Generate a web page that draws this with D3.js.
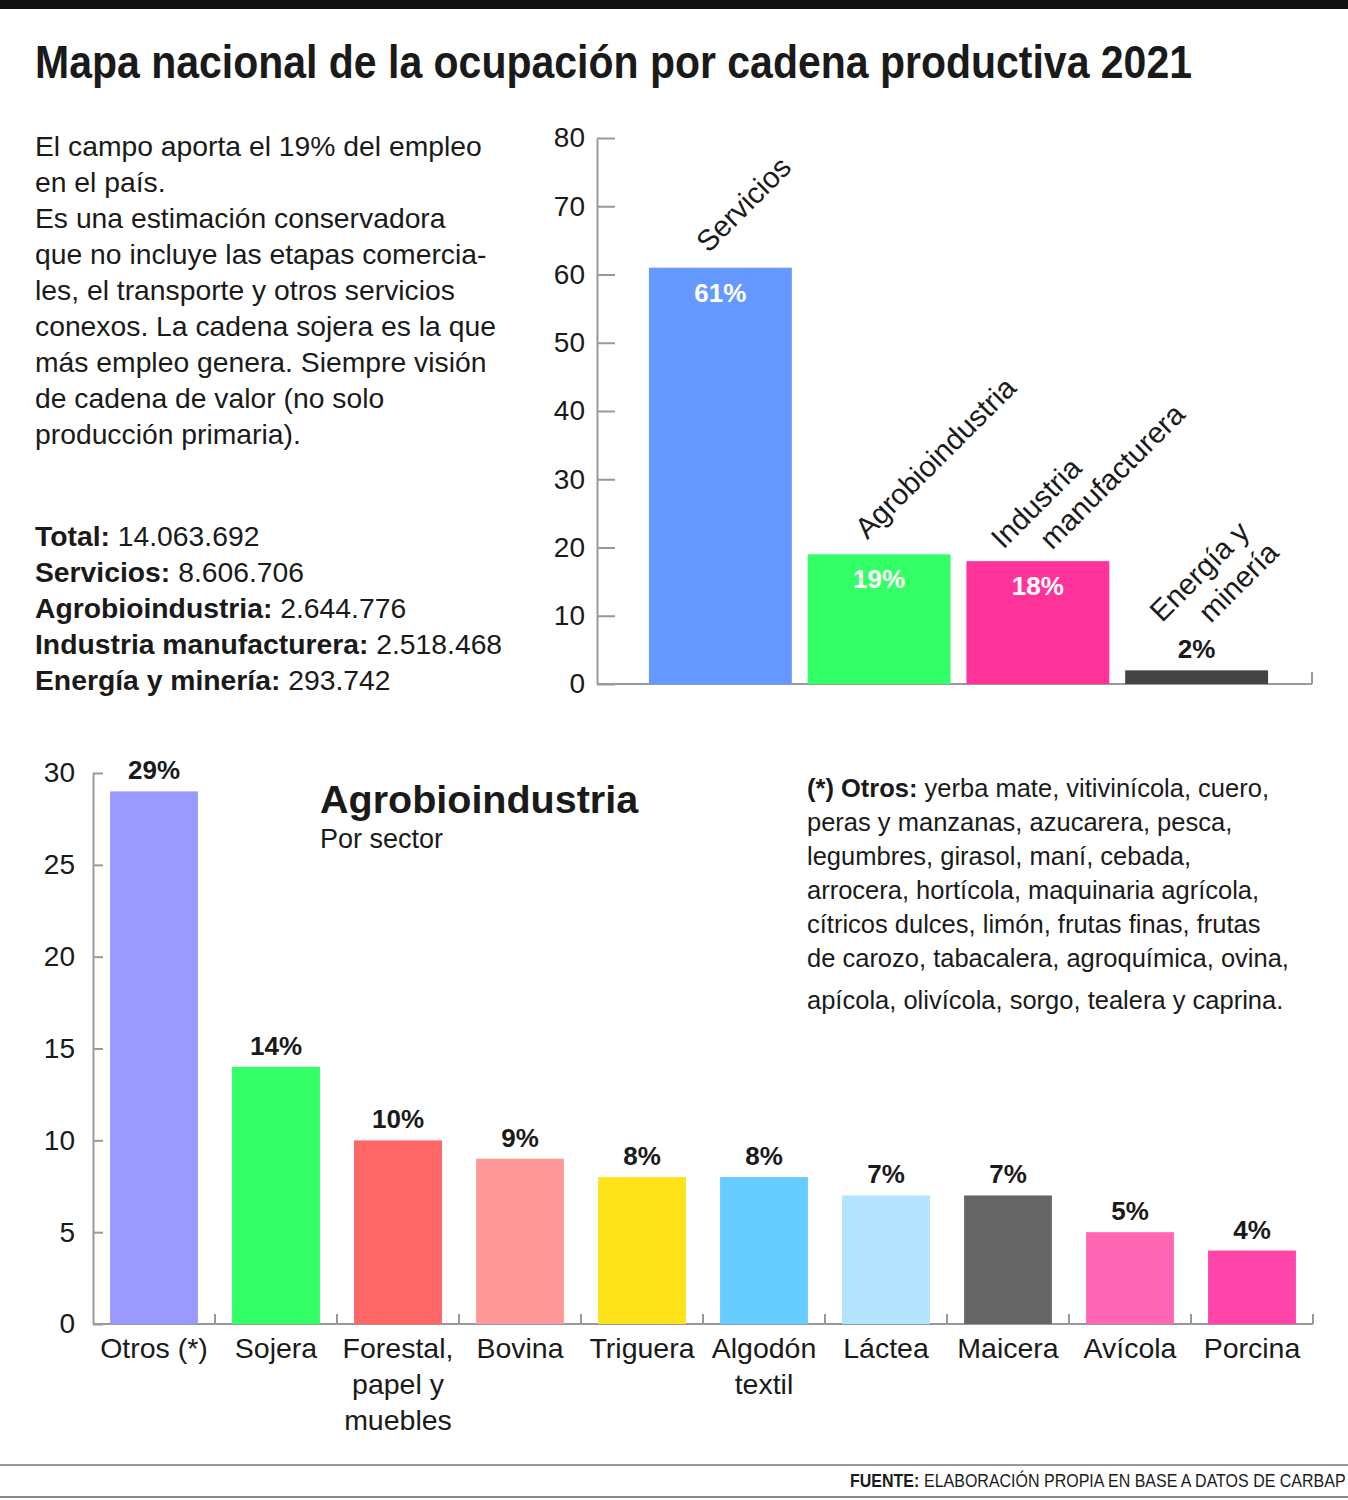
<!DOCTYPE html>
<html>
<head>
<meta charset="utf-8">
<script src="https://cdn.jsdelivr.net/npm/d3@7"></script>
<style>
  body { margin: 0; background: #fff; }
  text { font-family: "Liberation Sans", Arial, sans-serif; fill: #1a1a1a; }
</style>
</head>
<body>
<svg id="chart"></svg>
<script>
// top chart: ocupación por cadena productiva (%)
var cadenas = ["Servicios", "Agrobioindustria", "Industria manufacturera", "Energía y minería"];
var cadenaLines = [["Servicios"], ["Agrobioindustria"], ["Industria", "manufacturera"], ["Energía y", "minería"]];
var cadenaPct = [61, 19, 18, 2];
var cadenaColors = ["#6699ff", "#33ff66", "#ff3399", "#444444"];
var topTicks = [0, 10, 20, 30, 40, 50, 60, 70, 80];

// bottom chart: agrobioindustria por sector (%)
var sectores = ["Otros (*)", "Sojera", "Forestal, papel y muebles", "Bovina", "Triguera", "Algodón textil", "Láctea", "Maicera", "Avícola", "Porcina"];
var sectorLines = [["Otros (*)"], ["Sojera"], ["Forestal,", "papel y", "muebles"], ["Bovina"], ["Triguera"], ["Algodón", "textil"], ["Láctea"], ["Maicera"], ["Avícola"], ["Porcina"]];
var sectorPct = [29, 14, 10, 9, 8, 8, 7, 7, 5, 4];
var sectorColors = ["#9999ff", "#33ff66", "#ff6666", "#ff9999", "#ffe31a", "#66ccff", "#b3e3ff", "#666666", "#ff66b3", "#ff44aa"];
var bottomTicks = [0, 5, 10, 15, 20, 25, 30];

var intro = ["El campo aporta el 19% del empleo", "en el país.", "Es una estimación conservadora",
  "que no incluye las etapas comercia-", "les, el transporte y otros servicios",
  "conexos. La cadena sojera es la que", "más empleo genera. Siempre visión",
  "de cadena de valor (no solo", "producción primaria)."];
var totLabels = ["Total:", "Servicios:", "Agrobioindustria:", "Industria manufacturera:", "Energía y minería:"];
var totValues = ["14.063.692", "8.606.706", "2.644.776", "2.518.468", "293.742"];
var otrosNote = ["yerba mate, vitivinícola, cuero,", "peras y manzanas, azucarera, pesca,",
  "legumbres, girasol, maní, cebada,", "arrocera, hortícola, maquinaria agrícola,",
  "cítricos dulces, limón, frutas finas, frutas", "de carozo, tabacalera, agroquímica, ovina,",
  "apícola, olivícola, sorgo, tealera y caprina."];

var W = 1348, H = 1500;
var svg = d3.select("#chart").attr("width", W).attr("height", H);
svg.append("rect").attr("width", W).attr("height", H).attr("fill", "#fff");
svg.append("rect").attr("width", W).attr("height", 9).attr("fill", "#111");

svg.append("text").attr("x", 35).attr("y", 78)
  .attr("font-size", 46).attr("font-weight", "bold")
  .attr("textLength", 1157).attr("lengthAdjust", "spacingAndGlyphs")
  .text("Mapa nacional de la ocupación por cadena productiva 2021");

// intro text
svg.append("g").selectAll("text").data(intro).enter().append("text")
  .attr("x", 35).attr("y", function(d, i) { return 156 + i * 36; })
  .attr("font-size", 28.3).text(function(d) { return d; });

var tot = svg.append("g").selectAll("text").data(totLabels).enter().append("text")
  .attr("x", 35).attr("y", function(d, i) { return 546 + i * 36; })
  .attr("font-size", 28.3);
tot.append("tspan").attr("font-weight", "bold").text(function(d) { return d; });
tot.append("tspan").text(function(d, i) { return " " + totValues[i]; });

// ---------- top chart
var yT = d3.scaleLinear().domain([0, 80]).range([684, 138]);
var xT = d3.scaleBand().domain(cadenas).range([641, 1276]).paddingInner(0.1).paddingOuter(0.05);

var gT = svg.append("g");
var axT = gT.append("g").attr("transform", "translate(597,0)")
  .call(d3.axisLeft(yT).tickValues(topTicks).tickSizeInner(-18).tickSizeOuter(0).tickPadding(12));
axT.selectAll("path, line").attr("stroke", "#999").attr("stroke-width", 2);
axT.selectAll("text").attr("font-size", 28).attr("font-family", "Liberation Sans, Arial, sans-serif").attr("fill", "#222");

gT.append("line").attr("x1", 597).attr("x2", 1312).attr("y1", yT(0)).attr("y2", yT(0))
  .attr("stroke", "#999").attr("stroke-width", 2);
gT.append("line").attr("x1", 1312).attr("x2", 1312).attr("y1", yT(0) - 12).attr("y2", yT(0))
  .attr("stroke", "#999").attr("stroke-width", 2);

gT.selectAll(".bar").data(cadenas).enter().append("rect")
  .attr("x", function(d) { return xT(d); })
  .attr("y", function(d, i) { return yT(cadenaPct[i]); })
  .attr("width", xT.bandwidth())
  .attr("height", function(d, i) { return yT(0) - yT(cadenaPct[i]); })
  .attr("fill", function(d, i) { return cadenaColors[i]; });

gT.selectAll(".val").data(cadenas).enter().append("text")
  .attr("x", function(d) { return xT(d) + xT.bandwidth() / 2; })
  .attr("y", function(d, i) { return cadenaPct[i] < 5 ? yT(cadenaPct[i]) - 12 : yT(cadenaPct[i]) + 34; })
  .attr("text-anchor", "middle").attr("font-size", 26).attr("font-weight", "bold")
  .style("fill", function(d, i) { return cadenaPct[i] < 5 ? "#1a1a1a" : "#fff"; })
  .text(function(d, i) { return cadenaPct[i] + "%"; });

var lab = gT.selectAll(".lab").data(cadenas).enter().append("text")
  .attr("font-size", 29.5)
  .attr("transform", function(d, i) {
    var ax = xT(d) + xT.bandwidth() / 2 - 12;
    var ay = yT(cadenaPct[i]) - 14 - (cadenaPct[i] < 5 ? 36 : 0);
    return "translate(" + ax + "," + ay + ") rotate(-45)";
  });
lab.selectAll("tspan").data(function(d, i) { return cadenaLines[i]; }).enter().append("tspan")
  .attr("x", function(d, j, nodes) { return nodes.length > 1 ? -18 + j * 34 : 0; })
  .attr("y", function(d, j, nodes) { return nodes.length > 1 ? -14 + j * 35 : 0; })
  .text(function(d) { return d; });

// ---------- bottom chart
var yB = d3.scaleLinear().domain([0, 30]).range([1324, 773]);
var xB = d3.scaleBand().domain(sectores).range([93, 1313]).paddingInner(0.28).paddingOuter(0.14);

var gB = svg.append("g");
var axB = gB.append("g").attr("transform", "translate(93,0)")
  .call(d3.axisLeft(yB).tickValues(bottomTicks).tickSizeInner(-10).tickSizeOuter(0).tickPadding(18));
axB.selectAll("path, line").attr("stroke", "#999").attr("stroke-width", 2);
axB.selectAll("text").attr("font-size", 28).attr("font-family", "Liberation Sans, Arial, sans-serif").attr("fill", "#222");

gB.append("line").attr("x1", 93).attr("x2", 1313).attr("y1", yB(0)).attr("y2", yB(0))
  .attr("stroke", "#999").attr("stroke-width", 2);
gB.selectAll(".sep").data(sectores).enter().append("line")
  .attr("x1", function(d) { return xB(d) - xB.step() * 0.14 + xB.step(); })
  .attr("x2", function(d) { return xB(d) - xB.step() * 0.14 + xB.step(); })
  .attr("y1", yB(0) - 10).attr("y2", yB(0))
  .attr("stroke", "#999").attr("stroke-width", 2);

gB.selectAll(".bar").data(sectores).enter().append("rect")
  .attr("x", function(d) { return xB(d); })
  .attr("y", function(d, i) { return yB(sectorPct[i]); })
  .attr("width", xB.bandwidth())
  .attr("height", function(d, i) { return yB(0) - yB(sectorPct[i]); })
  .attr("fill", function(d, i) { return sectorColors[i]; });

gB.selectAll(".val").data(sectores).enter().append("text")
  .attr("x", function(d) { return xB(d) + xB.bandwidth() / 2; })
  .attr("y", function(d, i) { return yB(sectorPct[i]) - 12; })
  .attr("text-anchor", "middle").attr("font-size", 26).attr("font-weight", "bold")
  .text(function(d, i) { return sectorPct[i] + "%"; });

var cat = gB.selectAll(".cat").data(sectores).enter().append("text")
  .attr("text-anchor", "middle").attr("font-size", 28.5);
cat.selectAll("tspan").data(function(d, i) { return sectorLines[i]; }).enter().append("tspan")
  .attr("x", function() { var p = this.parentNode.__data__; return xB(p) + xB.bandwidth() / 2; })
  .attr("y", function(d, j) { return 1358 + j * 36; })
  .text(function(d) { return d; });

svg.append("text").attr("x", 320).attr("y", 813).attr("font-size", 39.5).attr("font-weight", "bold")
  .text("Agrobioindustria");
svg.append("text").attr("x", 320).attr("y", 848).attr("font-size", 27).text("Por sector");

var note = svg.append("g").selectAll("text").data(otrosNote).enter().append("text")
  .attr("x", 807).attr("y", function(d, i) { return 797 + i * 34 + (i == 6 ? 8 : 0); })
  .attr("font-size", 25.5);
note.filter(function(d, i) { return i == 0; }).append("tspan").attr("font-weight", "bold").text("(*) Otros: ");
note.append("tspan").text(function(d) { return d; });

// footer (condensed look: narrow font size, stretched vertically)
svg.append("line").attr("x1", 0).attr("x2", W).attr("y1", 1465).attr("y2", 1465).attr("stroke", "#999").attr("stroke-width", 2);
svg.append("line").attr("x1", 0).attr("x2", W).attr("y1", 1497).attr("y2", 1497).attr("stroke", "#888").attr("stroke-width", 2);
var foot = svg.append("g").attr("transform", "translate(850,1487) scale(1,1.15)");
foot.append("text").attr("x", 0).attr("y", 0).attr("font-size", 16).attr("font-weight", "bold")
  .text("FUENTE:");
foot.append("text").attr("x", 74).attr("y", 0).attr("font-size", 16)
  .text("ELABORACIÓN PROPIA EN BASE A DATOS DE CARBAP");
</script>
</body>
</html>
